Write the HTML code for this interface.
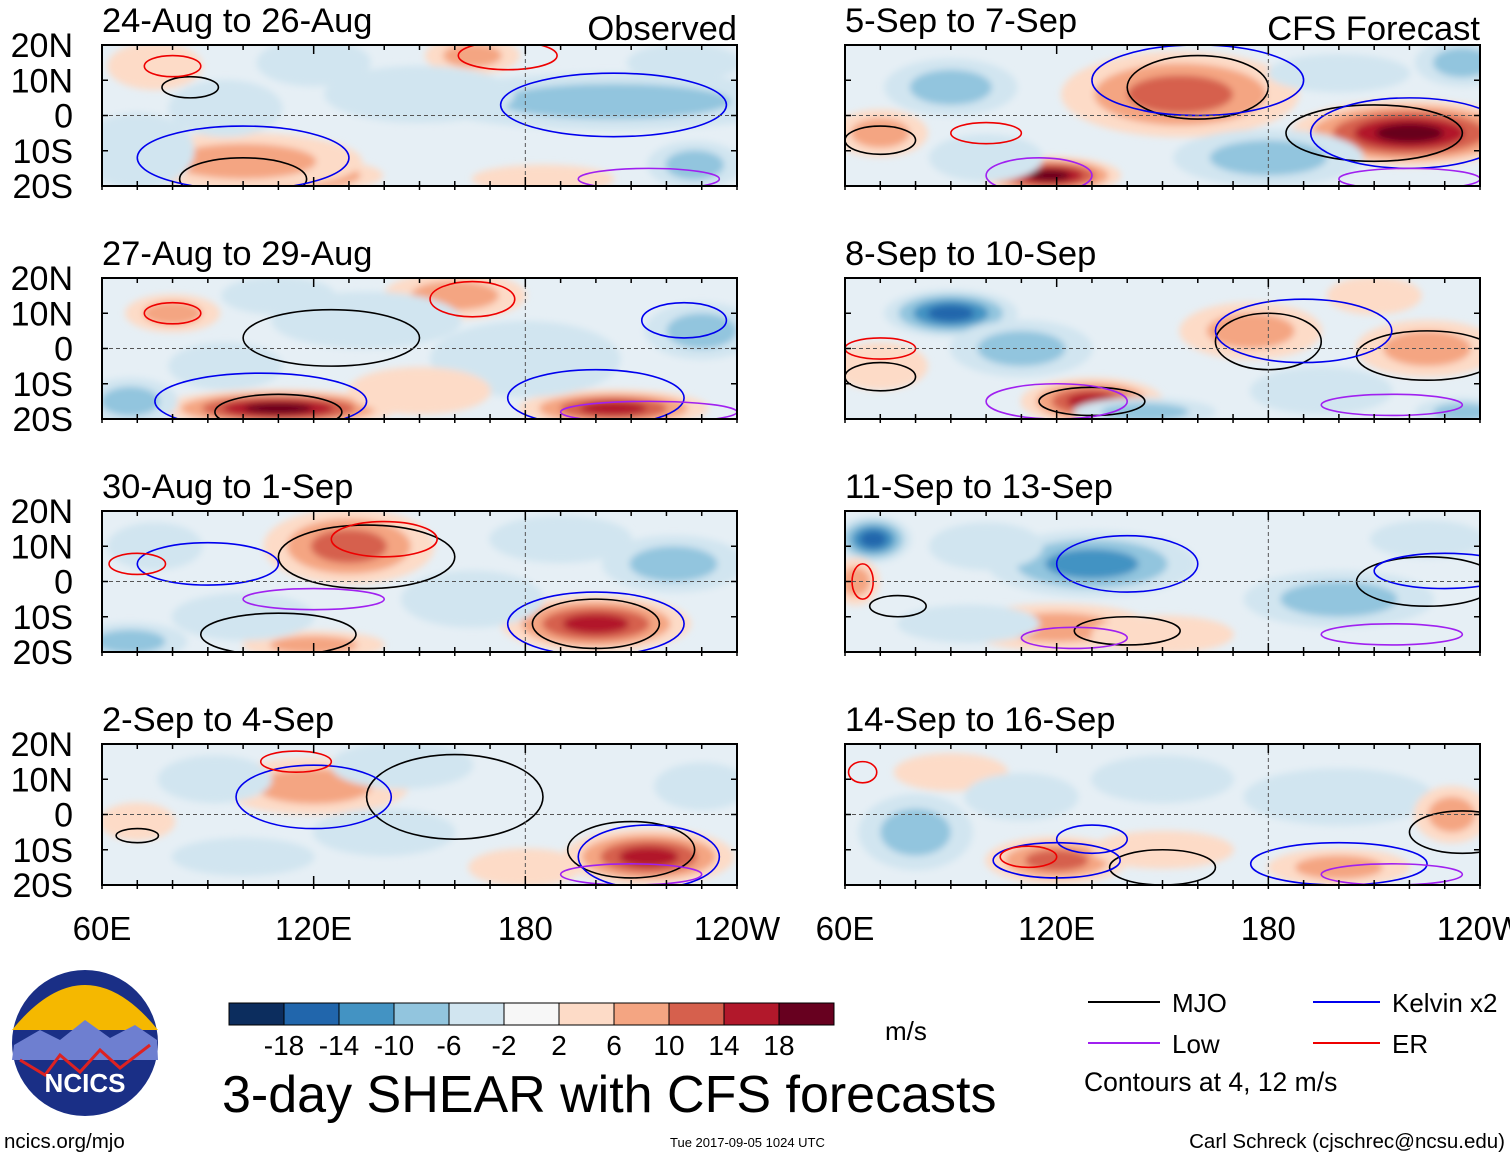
<!DOCTYPE html>
<html><head><meta charset="utf-8"><style>
body{margin:0;background:#fff;}
svg{display:block;font-family:"Liberation Sans",sans-serif;}
</style></head><body>
<svg id="chart" width="1510" height="1158" viewBox="0 0 1510 1158" xmlns="http://www.w3.org/2000/svg">
<defs>
<filter id="blur" x="-20%" y="-50%" width="140%" height="200%"><feGaussianBlur stdDeviation="3.5"/></filter>
</defs>
<g id="panels"></g>
<g id="bottom">
  <circle cx="85" cy="1043" r="73" fill="#1a2f86"/>
  <path d="M12,1030 Q85,940 158,1030 Z" fill="#f5b800"/>
  <path d="M14,1045 L40,1030 L60,1040 L85,1020 L110,1038 L135,1025 L157,1040 L158,1060 L12,1060 Z" fill="#6e7fd0"/>
  <path d="M20,1060 L45,1075 L60,1055 L80,1072 L100,1050 L120,1068 L150,1045" fill="none" stroke="#d22" stroke-width="3"/>
  <text x="85" y="1092" text-anchor="middle" font-size="26" font-weight="bold" fill="#fff">NCICS</text>
  <g id="cbar"></g>
  <text x="885" y="1040" font-size="26">m/s</text>
  <text x="222" y="1112" font-size="52">3-day SHEAR with CFS forecasts</text>
  <g font-size="26">
    <line x1="1088" y1="1002" x2="1160" y2="1002" stroke="#000" stroke-width="2"/><text x="1172" y="1012">MJO</text>
    <line x1="1313" y1="1002" x2="1380" y2="1002" stroke="#0000ee" stroke-width="2"/><text x="1392" y="1012">Kelvin x2</text>
    <line x1="1088" y1="1043" x2="1160" y2="1043" stroke="#a020f0" stroke-width="2"/><text x="1172" y="1053">Low</text>
    <line x1="1313" y1="1043" x2="1380" y2="1043" stroke="#ee0000" stroke-width="2"/><text x="1392" y="1053">ER</text>
    <text x="1084" y="1091" font-size="26.5">Contours at 4, 12 m/s</text>
  </g>
  <text x="4" y="1148" font-size="20.5">ncics.org/mjo</text>
  <text x="670" y="1147" font-size="13">Tue 2017-09-05 1024 UTC</text>
  <text x="1505" y="1148" font-size="20.5" text-anchor="end">Carl Schreck (cjschrec@ncsu.edu)</text>
</g>
</svg>
<script>
const titles=["24-Aug to 26-Aug","27-Aug to 29-Aug","30-Aug to 1-Sep","2-Sep to 4-Sep","5-Sep to 7-Sep","8-Sep to 10-Sep","11-Sep to 13-Sep","14-Sep to 16-Sep"];
const levels=[-18,-14,-10,-6,-2,2,6,10,14,18];
const colors=["#0c2d5e","#2166ac","#4393c3","#92c5de","#d1e5f0","#f7f7f7","#fddbc7","#f4a582","#d6604d","#b2182b","#67001f"];
const xTicks=[60,120,180,240];
const xTickLabels=["60E","120E","180","120W"];
const yTicks=[20,10,0,-10,-20];
const yTickLabels=["20N","10N","0","10S","20S"];
// blobs: [lon, lat, value, lonRadius, latRadius]
const blobs0=[[110,-17,16,22,4],[100,-13,7,25,6],[165,17,8,10,4],[75,14,4,10,5],[205,4,-5,40,6],[150,6,-4,20,6],[228,-14,-7,10,5],[70,-10,-4,12,8],[185,-18,4,15,3],[95,2,-3,12,6],[120,15,-3,12,5],[225,15,-3,12,4]];
const blobs1=[[110,-17,17,25,4],[205,-17,15,20,4],[160,15,8,15,5],[80,10,6,10,4],[68,-15,-7,10,5],[135,8,-4,20,6],[180,-3,-4,20,8],[230,5,-5,12,6],[150,-12,4,15,5],[95,-5,-4,12,5],[110,15,-3,12,4]];
const blobs2=[[130,10,9,18,8],[200,-12,14,20,6],[68,-17,-8,12,4],[222,5,-5,15,6],[120,-18,6,15,3],[165,-5,-3,15,6],[75,10,-4,10,5],[100,-10,-3,15,5],[190,12,-4,15,5]];
const blobs3=[[215,-12,15,18,6],[120,8,5,20,6],[180,-15,4,12,4],[92,10,-4,12,5],[145,14,-4,15,5],[70,-2,4,8,4],[230,8,-3,10,5],[140,-5,-3,15,5],[100,-12,-3,15,4]];
const blobs4=[[220,-5,17,25,7],[155,6,12,25,9],[118,-17,18,15,4],[90,8,-7,14,6],[180,-12,-6,20,6],[70,-5,5,10,5],[235,15,-5,10,5],[100,-12,-4,12,5],[200,12,-3,15,4]];
const blobs5=[[90,10,-15,14,5],[130,-15,15,15,5],[175,5,5,15,6],[225,0,6,15,6],[145,-18,-6,15,3],[235,-18,-7,10,3],[70,-5,4,10,5],[110,0,-5,15,6],[195,-12,-4,15,5],[210,15,4,10,4]];
const blobs6=[[68,12,-14,8,5],[130,5,-9,22,7],[120,-13,6,20,5],[200,-5,-6,20,6],[63,0,6,5,5],[225,12,-4,12,4],[150,-15,3,15,4],[95,-12,-3,15,4],[100,10,-4,12,5]];
const blobs7=[[120,-13,12,15,5],[200,-15,7,15,4],[80,-5,-8,12,8],[200,5,-4,20,6],[232,0,8,8,6],[150,10,-4,15,5],[90,12,3,12,4],[150,-10,4,15,4],[110,5,-4,12,5]];
const blobSets=[blobs0,blobs1,blobs2,blobs3,blobs4,blobs5,blobs6,blobs7];
// contours: [lon, lat, lonRadius, latRadius, typeIndex] types: 0 MJO,1 Kelvin,2 Low,3 ER
const cont0=[[100,-18,18,6,0],[85,8,8,3,0],[100,-12,30,9,1],[205,3,32,9,1],[80,14,8,3,3],[175,17,14,4,3],[215,-18,20,3,2]];
const cont1=[[125,3,25,8,0],[110,-18,18,5,0],[105,-15,30,8,1],[200,-14,25,8,1],[80,10,8,3,3],[165,14,12,5,3],[215,-18,25,3,2],[225,8,12,5,1]];
const cont2=[[135,7,25,9,0],[200,-12,18,7,0],[110,-15,22,6,0],[200,-12,25,9,1],[90,5,20,6,1],[140,12,15,5,3],[70,5,8,3,3],[120,-5,20,3,2]];
const cont3=[[160,5,25,12,0],[210,-10,18,8,0],[70,-6,6,2,0],[215,-12,20,9,1],[120,5,22,9,1],[115,15,10,3,3],[210,-17,20,3,2]];
const cont4=[[70,-7,10,4,0],[160,8,20,9,0],[210,-5,25,8,0],[220,-5,28,10,1],[160,10,30,10,1],[115,-17,15,5,2],[220,-18,20,3,2],[100,-5,10,3,3]];
const cont5=[[180,2,15,8,0],[225,-2,20,7,0],[70,-8,10,4,0],[130,-15,15,4,0],[190,5,25,9,1],[120,-15,20,5,2],[215,-16,20,3,2],[70,0,10,3,3]];
const cont6=[[75,-7,8,3,0],[225,0,20,7,0],[140,-14,15,4,0],[140,5,20,8,1],[230,3,20,5,1],[65,0,3,5,3],[125,-16,15,3,2],[215,-15,20,3,2]];
const cont7=[[235,-5,15,6,0],[150,-15,15,5,0],[120,-13,18,5,1],[200,-14,25,6,1],[130,-7,10,4,1],[112,-12,8,3,3],[215,-17,20,3,2],[65,12,4,3,3]];
const contSets=[cont0,cont1,cont2,cont3,cont4,cont5,cont6,cont7];
const contColors=["#000","#0000ee","#a020f0","#ee0000"];

const NS="http://www.w3.org/2000/svg";
function mk(tag,attrs,parent){const e=document.createElementNS(NS,tag);for(const k in attrs)e.setAttribute(k,attrs[k]);parent.appendChild(e);return e;}
function colorFor(v){let i=0;while(i<levels.length&&v>levels[i])i++;return colors[i];}
const W=635,H=141;
const lefts=[102,845],tops=[45,278,511,744];
const root=document.getElementById('panels');
for(let p=0;p<8;p++){
  const col=p<4?0:1,row=p%4;
  const x0=lefts[col],y0=tops[row];
  const xs=lon=>x0+(lon-60)/180*W;
  const ys=lat=>y0+(20-lat)/40*H;
  const g=mk('g',{},root);
  
  
  const cid='clip'+p;
  const cp=mk('clipPath',{id:cid},g);mk('rect',{x:x0,y:y0,width:W,height:H},cp);
  const inner=mk('g',{'clip-path':'url(#'+cid+')'},g);
  mk('rect',{x:x0,y:y0,width:W,height:H,fill:'#e6eff5'},inner);
  const bg=mk('g',{filter:'url(#blur)'},inner);
  blobSets[p].forEach(b=>{
    const v=b[2];
    const steps=Math.max(1,Math.ceil(Math.abs(v)/4));
    for(let s=0;s<steps;s++){
      const f=1.35*(1-s/(steps+0.6));
      const val=Math.sign(v)*(2.5+4*s);
      const e=mk('ellipse',{cx:xs(b[0]),cy:ys(b[1]),rx:b[3]*W/180*f,ry:b[4]*H/40*f,fill:colorFor(val)},bg);
      
      
    }
  });
  contSets[p].forEach(c=>{
    const e=mk('ellipse',{cx:xs(c[0]),cy:ys(c[1]),rx:c[2]*W/180,ry:c[3]*H/40,fill:'none',stroke:contColors[c[4]],'stroke-width':1.6},inner);
    
    
  });
  mk('line',{x1:x0,y1:ys(0),x2:x0+W,y2:ys(0),stroke:'#555','stroke-dasharray':'4,3','stroke-width':1},inner);
  mk('line',{x1:xs(180),y1:y0,x2:xs(180),y2:y0+H,stroke:'#555','stroke-dasharray':'4,3','stroke-width':1},inner);
  const fr=mk('rect',{x:x0,y:y0,width:W,height:H,fill:'none',stroke:'#000','stroke-width':2},g);
  
  
  for(let lon=60;lon<=240;lon+=10){
    const L=(lon%60===0)?9:5;
    mk('line',{x1:xs(lon),y1:y0,x2:xs(lon),y2:y0+L,stroke:'#000','stroke-width':1.5},g);
    mk('line',{x1:xs(lon),y1:y0+H,x2:xs(lon),y2:y0+H-L,stroke:'#000','stroke-width':1.5},g);
    mk('line',{x1:xs(lon),y1:y0+H,x2:xs(lon),y2:y0+H+4,stroke:'#000','stroke-width':1.5},g);
  }
  yTicks.forEach(lat=>{
    mk('line',{x1:x0,y1:ys(lat),x2:x0+6,y2:ys(lat),stroke:'#000','stroke-width':1.5},g);
    mk('line',{x1:x0+W,y1:ys(lat),x2:x0+W-6,y2:ys(lat),stroke:'#000','stroke-width':1.5},g);
  });
  const t=mk('text',{x:x0,y:y0-13,'font-size':34.5},g);t.textContent=titles[p];
  
  
  if(row===0){
    const r=mk('text',{x:x0+W,y:y0-5,'font-size':34.5,'text-anchor':'end'},g);r.textContent=col===0?"Observed":"CFS Forecast";
    
    
  }
  if(col===0){
    yTicks.forEach((lat,i)=>{
      const tt=mk('text',{x:73,y:ys(lat)+12,'font-size':34,'text-anchor':'end'},g);tt.textContent=yTickLabels[i];
      
      
    });
  }
  if(row===3){
    xTicks.forEach((lon,i)=>{
      const tt=mk('text',{x:xs(lon),y:940,'font-size':33,'text-anchor':'middle'},g);tt.textContent=xTickLabels[i];
      
      
    });
  }
}
const cb=document.getElementById('cbar');
const bw=55;
colors.forEach((c,i)=>{
  const r=mk('rect',{x:229+i*bw,y:1003,width:bw,height:22,fill:c,stroke:'#000','stroke-width':1},cb);
  
  
});
levels.forEach((lv,i)=>{
  const t=mk('text',{x:229+(i+1)*bw,y:1055,'font-size':28,'text-anchor':'middle'},cb);t.textContent=lv;
  
  
});
</script>
</body></html>
